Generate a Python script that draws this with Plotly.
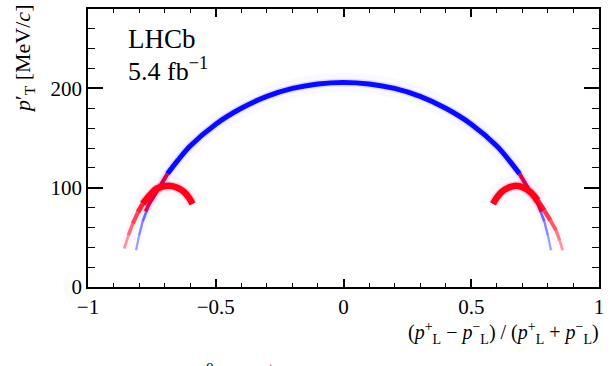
import plotly.graph_objects as go

# ---- data ----
# K0S band (Armenteros ellipse, blue)
ks_alpha = [-0.812, -0.800, -0.786, -0.760, -0.721, -0.689, -0.650, -0.600, -0.500, -0.400,
            -0.300, -0.200, -0.100, 0.000, 0.100, 0.200, 0.300, 0.400, 0.500, 0.600,
            0.650, 0.689, 0.721, 0.760, 0.786, 0.800, 0.812]
ks_pt = [37, 52, 66, 84, 100, 114, 127, 142, 164, 180,
         192, 200, 204.5, 206, 204.5, 200, 192, 180, 164, 142,
         127, 114, 100, 84, 66, 52, 37]

# red overlap on the K0S band near the crossings
ovl_left_alpha = [-0.689, -0.705, -0.721, -0.740, -0.760, -0.775]
ovl_left_pt = [114, 107, 100, 92, 84, 76]
ovl_right_alpha = [0.689, 0.705, 0.721, 0.740, 0.760, 0.775]
ovl_right_pt = [114, 107, 100, 92, 84, 76]

# Lambda-bar (left) and Lambda (right) bands, red
lam_left_alpha = [-0.591, -0.605, -0.625, -0.650, -0.682, -0.710, -0.734, -0.760, -0.786,
                  -0.805, -0.825, -0.842, -0.858]
lam_left_pt = [83.7, 90, 96, 100, 102, 101, 98.7, 92, 83.7, 75, 63.7, 52, 38.7]
lam_right_alpha = [0.585, 0.600, 0.620, 0.645, 0.676, 0.705, 0.734, 0.760, 0.786,
                   0.810, 0.832, 0.846, 0.858]
lam_right_pt = [83.7, 90, 96, 100, 102, 100, 95, 87, 77, 67, 57, 47, 37]

x_ticks = [-1, -0.5, 0, 0.5, 1]
y_ticks = [0, 100, 200]

FONT = "Liberation Serif"

fig = go.Figure()


def add_line(xs, ys, color, width, opacity=1.0, shape="spline"):
    fig.add_trace(go.Scatter(x=xs, y=ys, mode="lines", hoverinfo="skip",
                             line=dict(color=color, width=width, shape=shape),
                             opacity=opacity, showlegend=False))


def band(xs, ys, core, halo, w_core, thr=80.0, low=30.0):
    # body (pt >= thr) as smooth spline; tails faded segment-wise
    body_idx = [i for i, v in enumerate(ys) if v >= thr]
    if body_idx:
        i0, i1 = body_idx[0], body_idx[-1]
        bx, by = xs[i0:i1 + 1], ys[i0:i1 + 1]
        add_line(bx, by, halo, w_core + 14, 0.025)
        add_line(bx, by, halo, w_core + 3, 0.15)
        add_line(bx, by, core, w_core, 1.0)
    for i in range(len(xs) - 1):
        p = min(ys[i], ys[i + 1])
        if p >= thr:
            continue
        f = max(0.15, min(1.0, (p - low) / (thr - low)))
        w = max(1.8, w_core * (0.35 + 0.45 * f))
        sx, sy = xs[i:i + 2], ys[i:i + 2]
        add_line(sx, sy, halo, w + 6, 0.03 * (0.5 + f))
        add_line(sx, sy, core, w, 0.3 + 0.65 * f, "linear")


# K0S band (blue)
band(ks_alpha, ks_pt, "rgb(10,10,255)", "rgb(60,60,255)", 5, thr=110)
# red overlap on K0S band
for ax_, ap_ in [(ovl_left_alpha, ovl_left_pt), (ovl_right_alpha, ovl_right_pt)]:
    add_line(ax_, ap_, "rgb(200,0,120)", 7, 0.15)
    add_line(ax_, ap_, "rgb(235,0,55)", 3.5, 0.95)
# Lambda bands (red)
band(lam_left_alpha, lam_left_pt, "rgb(255,0,25)", "rgb(210,0,110)", 6.5, thr=82)
band(lam_right_alpha, lam_right_pt, "rgb(255,0,25)", "rgb(210,0,110)", 6.5, thr=82)

axis_common = dict(showline=True, linecolor="black", linewidth=1.5, mirror="ticks",
                   ticks="inside", tickcolor="black", tickwidth=1.5,
                   showgrid=False, zeroline=False,
                   tickfont=dict(family=FONT, size=21, color="black"))

fig.update_layout(
    width=611, height=366,
    margin=dict(l=88, r=10, t=7, b=79),
    paper_bgcolor="white", plot_bgcolor="white",
    font=dict(family=FONT, color="black"),
    xaxis=dict(range=[-1, 1], tickvals=x_ticks, ticklen=8,
               minor=dict(dtick=0.1, ticklen=4.5, ticks="inside", tickcolor="black", tickwidth=1.2),
               **axis_common),
    yaxis=dict(range=[0, 280], tickvals=y_ticks, ticklen=15,
               minor=dict(dtick=20, ticklen=7, ticks="inside", tickcolor="black", tickwidth=1.2),
               **axis_common),
    annotations=[
        dict(text="LHCb", xref="paper", yref="paper", x=0.075, y=1, yshift=-13,
             xanchor="left", yanchor="top", showarrow=False,
             font=dict(family=FONT, size=27, color="black")),
        dict(text="5.4 fb<sup>−1</sup>", xref="paper", yref="paper", x=0.075, y=1, yshift=-42,
             xanchor="left", yanchor="top", showarrow=False,
             font=dict(family=FONT, size=26, color="black")),
        dict(text="<i>p</i>′<sub>T</sub> [MeV/<i>c</i>]", xref="paper", yref="paper",
             x=0, xshift=-80, y=1, yshift=6, xanchor="left", yanchor="top",
             textangle=-90, showarrow=False,
             font=dict(family=FONT, size=22, color="black")),
        dict(text="(<i>p</i><sup>+</sup><sub>L</sub> − <i>p</i><sup>−</sup><sub>L</sub>) / "
                  "(<i>p</i><sup>+</sup><sub>L</sub> + <i>p</i><sup>−</sup><sub>L</sub>)",
             xref="paper", yref="paper", x=1, xshift=2, y=0, yshift=-30,
             xanchor="right", yanchor="top", showarrow=False,
             font=dict(family=FONT, size=20, color="black")),
        dict(text="K<sup>0</sup><sub>S</sub> → π<sup>+</sup>π<sup>−</sup>",
             xref="paper", yref="paper", x=0, xshift=100, y=0, yshift=-70,
             xanchor="left", yanchor="top", showarrow=False,
             font=dict(family=FONT, size=22, color="black")),
    ],
)

fig.write_html("out.html")
